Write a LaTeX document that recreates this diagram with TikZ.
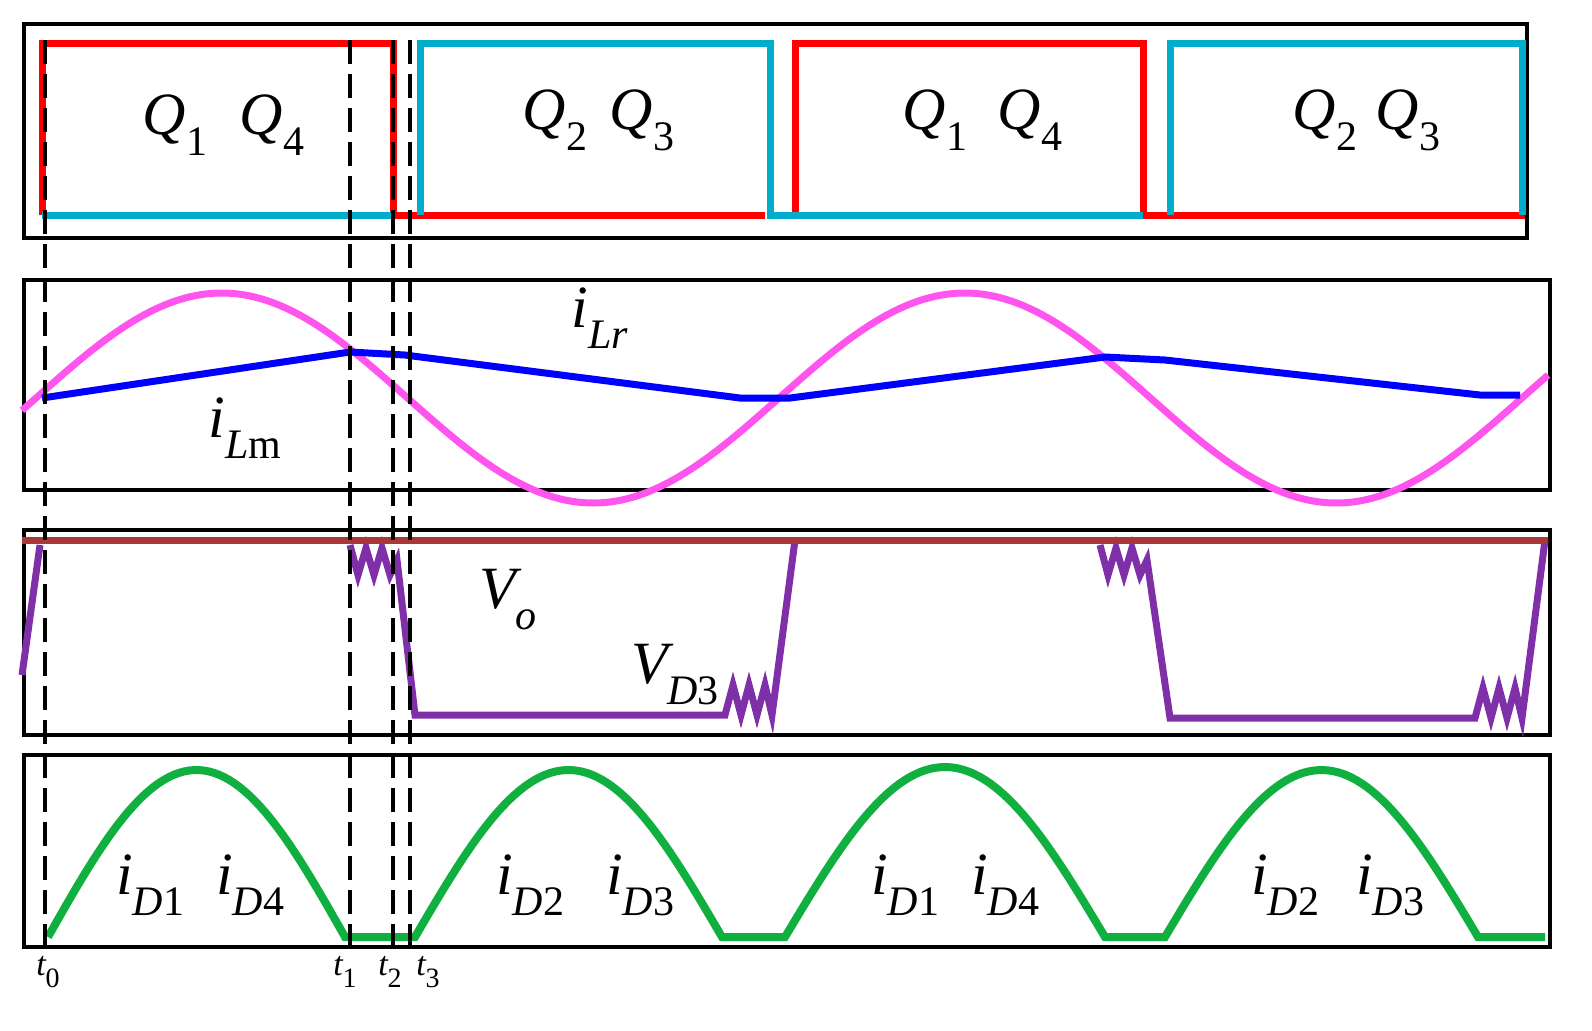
\documentclass[tikz,border=0pt]{standalone}
\usepackage{fontspec}
\setmainfont{Liberation Serif}
\definecolor{cy}{HTML}{00AECB}
\definecolor{pk}{HTML}{FF55EE}
\definecolor{pu}{HTML}{7F2FA8}
\definecolor{br}{HTML}{A83838}
\definecolor{gr}{HTML}{10B040}
\begin{document}
\begin{tikzpicture}[x=0.5pt,y=-0.5pt,
  frame/.style={draw=black,line width=2pt},
  lbl/.style={font=\fontsize{30}{34}\selectfont\itshape},
  tl/.style={font=\fontsize{17}{20}\selectfont\itshape},
  dsh/.style={draw=black,line width=2pt,dash pattern=on 12pt off 5pt}]
\useasboundingbox (0,0) rectangle (1592,1030);
\newcommand{\sub}[1]{\raisebox{-0.35em}{\fontsize{21}{24}\selectfont #1}}
% frames
\node[frame,minimum width=751.5pt,minimum height=107pt,inner sep=0,anchor=north west] (p1) at (22,22) {};
\node[frame,minimum width=763pt,minimum height=105pt,inner sep=0,anchor=north west] (p2) at (22,278) {};
\node[frame,minimum width=763pt,minimum height=102.5pt,inner sep=0,anchor=north west] (p3) at (22,528) {};
\node[frame,minimum width=763pt,minimum height=96pt,inner sep=0,anchor=north west] (p4) at (22,753) {};
% panel 1
\draw[red,line width=3.5pt] (42,215)--(42,43)--(393,43)--(393,215)--(765,215);
\draw[red,line width=3.5pt] (795,215)--(795,43)--(1143,43)--(1143,215)--(1525,215);
\draw[cy,line width=3.5pt] (42,215)--(393,215);
\draw[cy,line width=3.5pt] (420,215)--(420,43)--(770,43)--(770,215)--(1143,215);
\draw[cy,line width=3.5pt] (1170,215)--(1170,43)--(1522,43)--(1522,215);
\node[lbl] (q1a) at (175,125) {Q\sub{\upshape 1}};
\node[lbl] (q4a) at (272,125) {Q\sub{\upshape 4}};
\node[lbl] (q2a) at (555,120) {Q\sub{\upshape 2}};
\node[lbl] (q3a) at (642,120) {Q\sub{\upshape 3}};
\node[lbl] (q1b) at (935,120) {Q\sub{\upshape 1}};
\node[lbl] (q4b) at (1030,120) {Q\sub{\upshape 4}};
\node[lbl] (q2b) at (1325,120) {Q\sub{\upshape 2}};
\node[lbl] (q3b) at (1408,120) {Q\sub{\upshape 3}};
% panel 2
\draw[pk,line width=3.5pt] plot[domain=22:1548,samples=300] (\x,{398-105*sin((\x-36)/743*360)});
\draw[blue,line width=3.5pt] (42,398)--(350,352)--(405,355)--(740,398)--(790,398)--(1105,357)--(1165,360)--(1480,395)--(1520,395);
\node[lbl] (ilr) at (600,318) {i\sub{Lr}};
\node[lbl] (ilm) at (245,428) {i\sub{L{\upshape m}}};
% panel 3
\draw[pu,line width=3.5pt] (22,675)--(40,545)
  (350,545)--(358,575)--(366,548)--(374,575)--(382,548)--(390,575)--(397,560)--(415,715)--(725,715)--(733,685)--(741,715)--(749,685)--(757,715)--(765,685)--(772,715)--(795,540)
  (1100,545)--(1108,575)--(1116,548)--(1124,575)--(1132,548)--(1140,575)--(1147,560)--(1170,718)--(1475,718)--(1483,688)--(1491,718)--(1499,688)--(1507,718)--(1515,688)--(1522,718)--(1545,540);
\draw[br,line width=3.5pt] (22,540)--(1548,540);
\node[lbl] (vo) at (508,600) {V\sub{o}};
\node[lbl] (vd3) at (675,675) {V\sub{D\upshape 3}};
% panel 4
\draw[gr,line width=4pt]
  plot[domain=48:345,samples=60] (\x,{937-167*sin((\x-48)/297*180)})
  -- (415,937)
  -- plot[domain=415:722,samples=60] (\x,{937-167*sin((\x-415)/307*180)})
  -- (785,937)
  -- plot[domain=785:1105,samples=60] (\x,{937-170*sin((\x-785)/320*180)})
  -- (1165,937)
  -- plot[domain=1165:1478,samples=60] (\x,{937-167*sin((\x-1165)/313*180)})
  -- (1545,937);
\foreach \n/\x/\s in {a/150/D\upshape 1,b/250/D\upshape 4,c/530/D\upshape 2,d/640/D\upshape 3,e/905/D\upshape 1,f/1005/D\upshape 4,g/1285/D\upshape 2,h/1390/D\upshape 3}
  \node[lbl] (id\n) at (\x,885) {i\sub{\s}};
% dashed lines
\foreach \n/\x in {0/45,1/350,2/393,3/410} {
  \coordinate (dt\n) at (\x,40); \coordinate (db\n) at (\x,945);
  \draw[dsh] (dt\n)--(db\n);}
\node[tl] (t0) at (48,972) {t\sub{\upshape\fontsize{14}{16}\selectfont 0}};
\node[tl] (t1) at (345,972) {t\sub{\upshape\fontsize{14}{16}\selectfont 1}};
\node[tl] (t2) at (390,972) {t\sub{\upshape\fontsize{14}{16}\selectfont 2}};
\node[tl] (t3) at (428,972) {t\sub{\upshape\fontsize{14}{16}\selectfont 3}};
\end{tikzpicture}
\end{document}
